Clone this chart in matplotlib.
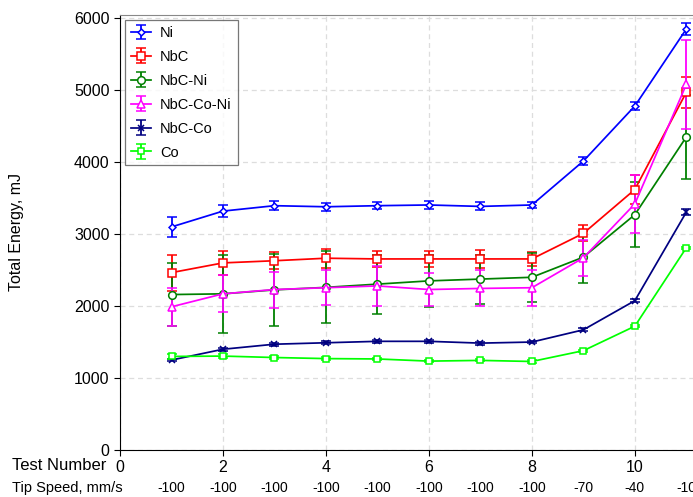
import matplotlib
matplotlib.use("Agg")
import matplotlib.pyplot as plt
import matplotlib.transforms as mtransforms

plt.rcParams["font.family"] = ["Liberation Sans", "DejaVu Sans"]

# test number 1..11
test_num = [1, 2, 3, 4, 5, 6, 7, 8, 9, 10, 11]
tip_speed = ["-100", "-100", "-100", "-100", "-100", "-100", "-100", "-100", "-70", "-40", "-10"]

ni = [3100, 3320, 3395, 3380, 3395, 3405, 3385, 3405, 4015, 4780, 5850]
ni_err = [140, 80, 60, 55, 50, 60, 55, 45, 50, 60, 80]

nbc = [2465, 2600, 2630, 2665, 2655, 2655, 2655, 2655, 3010, 3620, 4970]
nbc_err = [250, 165, 120, 135, 110, 110, 125, 95, 110, 200, 220]

nbc_ni = [2160, 2170, 2225, 2260, 2305, 2350, 2375, 2400, 2680, 3270, 4350]
nbc_ni_err = [435, 540, 505, 500, 410, 360, 340, 340, 360, 450, 580]

nbc_co_ni = [1990, 2170, 2230, 2255, 2280, 2230, 2245, 2255, 2670, 3420, 5080]
nbc_co_ni_err = [265, 255, 250, 240, 275, 230, 250, 250, 250, 400, 620]

nbc_co = [1250, 1400, 1470, 1490, 1510, 1510, 1485, 1500, 1670, 2075, 3305]
nbc_co_err = [20, 20, 20, 20, 20, 20, 20, 20, 20, 25, 40]

co = [1300, 1305, 1285, 1270, 1265, 1235, 1245, 1230, 1380, 1720, 2810]
co_err = [30, 25, 20, 20, 15, 15, 15, 15, 15, 15, 15]

series = [
    ("Ni", ni, ni_err, "#0000FF", "D", 3.5),
    ("NbC", nbc, nbc_err, "#FF0000", "s", 5.5),
    ("NbC-Ni", nbc_ni, nbc_ni_err, "#008000", "o", 5.5),
    ("NbC-Co-Ni", nbc_co_ni, nbc_co_ni_err, "#FF00FF", "^", 5.5),
    ("NbC-Co", nbc_co, nbc_co_err, "#000080", "x", 4.5),
    ("Co", co, co_err, "#00FF00", "s", 4),
]

fig = plt.figure(figsize=(6.93, 4.97), dpi=100)
ax = fig.add_axes([0.1732, 0.0946, 0.8268, 0.8752])

for name, vals, errs, col, mk, ms in series:
    ax.errorbar(test_num, vals, yerr=errs, color=col, marker=mk, markersize=ms,
                markerfacecolor="white" if mk != "x" else col, markeredgecolor=col,
                markeredgewidth=1.1, lw=1.25, elinewidth=1.3, capsize=3.5, capthick=1.3,
                label=name)

ax.set_xlim(0, 11.13)
ax.set_ylim(0, 6045)
ax.set_yticks([0, 1000, 2000, 3000, 4000, 5000, 6000])
ax.set_xticks([0, 2, 4, 6, 8, 10])
ax.tick_params(axis="both", labelsize=11.5, direction="out", length=4, width=0.8)
ax.grid(True, color="#dddddd", linestyle=(0, (4, 3)), linewidth=0.9)
ax.set_axisbelow(True)
ax.spines["right"].set_visible(False)
ax.spines["top"].set_color("#888888")
ax.spines["left"].set_color("black")
ax.spines["bottom"].set_color("black")
ax.set_ylabel("Total Energy, mJ", fontsize=11.5, labelpad=36)

# second row of x labels: tip speed
trans = mtransforms.blended_transform_factory(ax.transData, ax.transAxes)
for x, s in zip(test_num, tip_speed):
    ax.text(x, -0.087, s, transform=trans, ha="center", va="center", fontsize=10)
fig.text(0.017, 1 - 466 / 497, "Test Number", ha="left", va="center", fontsize=12)
fig.text(0.017, 1 - 488 / 497, "Tip Speed, mm/s", ha="left", va="center", fontsize=10.5)

leg = ax.legend(loc="upper left", fontsize=10.5, handlelength=1.4, frameon=True,
                fancybox=False, edgecolor="#555555", borderaxespad=0.35,
                labelspacing=0.68, handletextpad=0.6)
leg.get_frame().set_linewidth(0.9)

fig.savefig("out.png", dpi=100)
